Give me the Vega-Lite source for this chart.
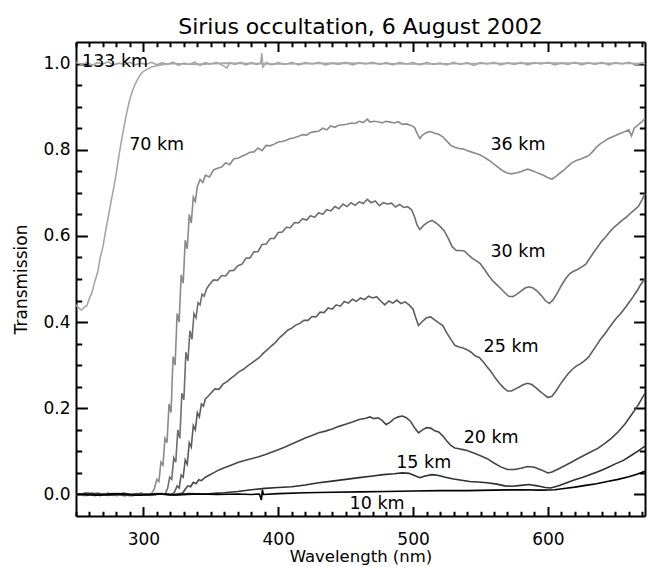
{
"$schema": "https://vega.github.io/schema/vega-lite/v6.json",
"width": 569, "height": 474,
"autosize": {"type": "none"},
"padding": {"left": 76, "top": 42, "right": 8, "bottom": 51},
"background": "white",
"title": {"text": "Sirius occultation, 6 August 2002", "font": "DejaVu Sans", "fontSize": 22, "fontWeight": "normal", "color": "black", "anchor": "middle", "offset": 2},
"config": {"view": {"stroke": null}, "font": "DejaVu Sans"},
"datasets": {
"labels": [
{"w":279,"t":1.004,"label":"133 km"},
{"w":309.8,"t":0.81,"label":"70 km"},
{"w":577.8,"t":0.81,"label":"36 km"},
{"w":577.8,"t":0.563,"label":"30 km"},
{"w":572.7,"t":0.343,"label":"25 km"},
{"w":557.9,"t":0.131,"label":"20 km"},
{"w":507.9,"t":0.073,"label":"15 km"},
{"w":473.3,"t":-0.022,"label":"10 km"}
],
"curves": [
{"k":"133","w":250,"t":1.003},{"k":"133","w":254,"t":0.998},{"k":"133","w":258,"t":1.002},{"k":"133","w":262,"t":0.996},{"k":"133","w":266,"t":1.002},{"k":"133","w":270,"t":0.999},{"k":"133","w":274,"t":1.004},{"k":"133","w":278,"t":0.997},{"k":"133","w":282,"t":1.001},{"k":"133","w":286,"t":0.998},{"k":"133","w":290,"t":1.003},{"k":"133","w":294,"t":0.997},{"k":"133","w":298,"t":1.001},{"k":"133","w":302,"t":0.998},{"k":"133","w":306,"t":1.003},{"k":"133","w":310,"t":0.997},{"k":"133","w":314,"t":1.002},{"k":"133","w":318,"t":0.998},{"k":"133","w":322,"t":1.003},{"k":"133","w":326,"t":0.996},{"k":"133","w":330,"t":1.001},{"k":"133","w":334,"t":0.998},{"k":"133","w":338,"t":1.003},{"k":"133","w":342,"t":0.996},{"k":"133","w":346,"t":1.002},{"k":"133","w":350,"t":0.999},{"k":"133","w":354,"t":1.003},{"k":"133","w":358,"t":0.997},{"k":"133","w":362,"t":0.99},{"k":"133","w":364,"t":1.002},{"k":"133","w":368,"t":0.998},{"k":"133","w":372,"t":1.003},{"k":"133","w":376,"t":0.997},{"k":"133","w":380,"t":1.002},{"k":"133","w":384,"t":0.998},{"k":"133","w":387,"t":1.002},{"k":"133","w":387.8,"t":1.024},{"k":"133","w":388.6,"t":0.992},{"k":"133","w":391,"t":1.003},{"k":"133","w":395,"t":0.997},
{"k":"133","w":400,"t":1.002},{"k":"133","w":405,"t":0.998},{"k":"133","w":410,"t":1.003},{"k":"133","w":415,"t":0.997},{"k":"133","w":420,"t":1.002},{"k":"133","w":425,"t":0.999},{"k":"133","w":430,"t":1.003},{"k":"133","w":435,"t":0.997},{"k":"133","w":440,"t":1.001},{"k":"133","w":445,"t":0.998},{"k":"133","w":450,"t":1.003},{"k":"133","w":455,"t":0.997},{"k":"133","w":460,"t":1.002},{"k":"133","w":465,"t":0.999},{"k":"133","w":470,"t":1.003},{"k":"133","w":475,"t":0.998},{"k":"133","w":480,"t":1.002},{"k":"133","w":485,"t":0.997},{"k":"133","w":490,"t":1.003},{"k":"133","w":495,"t":0.999},{"k":"133","w":500,"t":1.002},{"k":"133","w":505,"t":0.997},{"k":"133","w":510,"t":1.003},{"k":"133","w":515,"t":0.998},{"k":"133","w":520,"t":1.001},{"k":"133","w":525,"t":0.997},{"k":"133","w":530,"t":1.003},{"k":"133","w":535,"t":0.998},{"k":"133","w":540,"t":1.002},{"k":"133","w":545,"t":0.996},{"k":"133","w":550,"t":1.002},{"k":"133","w":555,"t":0.999},{"k":"133","w":560,"t":1.003},{"k":"133","w":565,"t":0.997},{"k":"133","w":570,"t":1.002},{"k":"133","w":575,"t":0.998},{"k":"133","w":580,"t":1.003},{"k":"133","w":585,"t":0.997},{"k":"133","w":590,"t":1.002},{"k":"133","w":595,"t":0.999},{"k":"133","w":600,"t":1.003},{"k":"133","w":605,"t":0.997},{"k":"133","w":610,"t":1.001},{"k":"133","w":615,"t":0.998},{"k":"133","w":620,"t":1.003},{"k":"133","w":625,"t":0.997},{"k":"133","w":630,"t":1.002},{"k":"133","w":635,"t":0.998},{"k":"133","w":640,"t":1.003},{"k":"133","w":645,"t":0.997},{"k":"133","w":650,"t":1.002},{"k":"133","w":655,"t":0.999},{"k":"133","w":660,"t":1.003},{"k":"133","w":665,"t":0.997},{"k":"133","w":670,"t":1.002},{"k":"133","w":672,"t":0.999},

{"k":"70","w":250,"t":0.44},{"k":"70","w":252,"t":0.433},{"k":"70","w":254,"t":0.428},{"k":"70","w":256,"t":0.434},{"k":"70","w":258,"t":0.438},{"k":"70","w":260,"t":0.455},{"k":"70","w":262,"t":0.47},{"k":"70","w":264,"t":0.495},{"k":"70","w":266,"t":0.515},{"k":"70","w":268,"t":0.55},{"k":"70","w":270,"t":0.575},{"k":"70","w":272,"t":0.612},{"k":"70","w":274,"t":0.645},{"k":"70","w":276,"t":0.68},{"k":"70","w":278,"t":0.712},{"k":"70","w":280,"t":0.748},{"k":"70","w":282,"t":0.79},{"k":"70","w":284,"t":0.826},{"k":"70","w":286,"t":0.86},{"k":"70","w":288,"t":0.892},{"k":"70","w":290,"t":0.918},{"k":"70","w":292,"t":0.938},{"k":"70","w":294,"t":0.953},{"k":"70","w":296,"t":0.965},{"k":"70","w":298,"t":0.975},{"k":"70","w":300,"t":0.982},{"k":"70","w":303,"t":0.987},{"k":"70","w":306,"t":0.992},{"k":"70","w":310,"t":0.995},{"k":"70","w":315,"t":0.998},{"k":"70","w":320,"t":1.0},{"k":"70","w":340,"t":0.998},{"k":"70","w":360,"t":1.001},{"k":"70","w":400,"t":0.999},{"k":"70","w":450,"t":1.001},{"k":"70","w":500,"t":0.999},{"k":"70","w":550,"t":1.0},{"k":"70","w":600,"t":1.001},{"k":"70","w":672,"t":1.0},

{"k":"36","w":250,"t":0.002},{"k":"36","w":256,"t":-0.003},{"k":"36","w":262,"t":0.003},{"k":"36","w":268,"t":-0.002},{"k":"36","w":274,"t":0.003},{"k":"36","w":280,"t":-0.003},{"k":"36","w":286,"t":0.002},{"k":"36","w":292,"t":-0.002},{"k":"36","w":298,"t":0.003},{"k":"36","w":303,"t":-0.001},{"k":"36","w":306,"t":0.002},
{"k":"36","w":308,"t":0.012},{"k":"36","w":310,"t":0.035},{"k":"36","w":311.5,"t":0.03},{"k":"36","w":313,"t":0.075},{"k":"36","w":314.5,"t":0.068},{"k":"36","w":316,"t":0.13},{"k":"36","w":317.5,"t":0.12},{"k":"36","w":319,"t":0.21},{"k":"36","w":320.5,"t":0.19},{"k":"36","w":322,"t":0.32},{"k":"36","w":323.5,"t":0.3},{"k":"36","w":325,"t":0.42},{"k":"36","w":326.5,"t":0.4},{"k":"36","w":328,"t":0.51},{"k":"36","w":329.5,"t":0.49},{"k":"36","w":331,"t":0.59},{"k":"36","w":332.5,"t":0.57},{"k":"36","w":334,"t":0.65},{"k":"36","w":335.5,"t":0.63},{"k":"36","w":337,"t":0.69},{"k":"36","w":338.5,"t":0.68},
{"k":"36","w":340,"t":0.715},{"k":"36","w":342,"t":0.731},{"k":"36","w":344,"t":0.724},{"k":"36","w":346,"t":0.741},{"k":"36","w":349,"t":0.737},{"k":"36","w":352,"t":0.753},{"k":"36","w":355,"t":0.757},{"k":"36","w":358,"t":0.76},{"k":"36","w":361,"t":0.77},{"k":"36","w":364,"t":0.765},{"k":"36","w":367,"t":0.779},{"k":"36","w":370,"t":0.78},{"k":"36","w":373,"t":0.785},{"k":"36","w":376,"t":0.789},{"k":"36","w":379,"t":0.794},{"k":"36","w":382,"t":0.795},{"k":"36","w":385,"t":0.804},{"k":"36","w":388,"t":0.798},{"k":"36","w":391,"t":0.81},{"k":"36","w":394,"t":0.809},{"k":"36","w":397,"t":0.813},{"k":"36","w":400,"t":0.818},{"k":"36","w":403,"t":0.819},{"k":"36","w":406,"t":0.822},{"k":"36","w":409,"t":0.826},{"k":"36","w":412,"t":0.828},{"k":"36","w":415,"t":0.831},{"k":"36","w":418,"t":0.835},{"k":"36","w":421,"t":0.834},{"k":"36","w":424,"t":0.84},{"k":"36","w":427,"t":0.842},{"k":"36","w":430,"t":0.843},{"k":"36","w":433,"t":0.85},{"k":"36","w":436,"t":0.846},{"k":"36","w":439,"t":0.855},{"k":"36","w":442,"t":0.852},{"k":"36","w":445,"t":0.857},{"k":"36","w":448,"t":0.858},{"k":"36","w":451,"t":0.859},{"k":"36","w":454,"t":0.862},{"k":"36","w":457,"t":0.861},{"k":"36","w":460,"t":0.866},{"k":"36","w":463,"t":0.863},{"k":"36","w":466,"t":0.871},{"k":"36","w":468,"t":0.864},{"k":"36","w":471,"t":0.866},{"k":"36","w":474,"t":0.865},{"k":"36","w":477,"t":0.862},{"k":"36","w":480,"t":0.866},{"k":"36","w":483,"t":0.864},{"k":"36","w":486,"t":0.862},{"k":"36","w":489,"t":0.865},{"k":"36","w":492,"t":0.859},{"k":"36","w":495,"t":0.86},{"k":"36","w":498,"t":0.857},{"k":"36","w":501,"t":0.852},{"k":"36","w":503,"t":0.838},{"k":"36","w":505,"t":0.826},{"k":"36","w":507,"t":0.834},{"k":"36","w":510,"t":0.84},{"k":"36","w":513,"t":0.842},{"k":"36","w":516,"t":0.838},{"k":"36","w":519,"t":0.836},{"k":"36","w":522,"t":0.83},{"k":"36","w":525,"t":0.82},{"k":"36","w":528,"t":0.81},{"k":"36","w":531,"t":0.806},{"k":"36","w":534,"t":0.803},{"k":"36","w":537,"t":0.802},{"k":"36","w":540,"t":0.798},{"k":"36","w":543,"t":0.795},{"k":"36","w":546,"t":0.792},{"k":"36","w":549,"t":0.789},{"k":"36","w":552,"t":0.784},{"k":"36","w":555,"t":0.778},{"k":"36","w":558,"t":0.772},{"k":"36","w":561,"t":0.764},{"k":"36","w":564,"t":0.757},{"k":"36","w":567,"t":0.75},{"k":"36","w":570,"t":0.746},{"k":"36","w":573,"t":0.744},{"k":"36","w":576,"t":0.746},{"k":"36","w":579,"t":0.748},{"k":"36","w":582,"t":0.752},{"k":"36","w":585,"t":0.755},{"k":"36","w":588,"t":0.752},{"k":"36","w":591,"t":0.748},{"k":"36","w":594,"t":0.744},{"k":"36","w":597,"t":0.74},{"k":"36","w":600,"t":0.735},{"k":"36","w":603,"t":0.732},{"k":"36","w":606,"t":0.738},{"k":"36","w":609,"t":0.746},{"k":"36","w":612,"t":0.753},{"k":"36","w":615,"t":0.762},{"k":"36","w":618,"t":0.77},{"k":"36","w":621,"t":0.775},{"k":"36","w":624,"t":0.778},{"k":"36","w":627,"t":0.782},{"k":"36","w":630,"t":0.786},{"k":"36","w":633,"t":0.795},{"k":"36","w":636,"t":0.806},{"k":"36","w":639,"t":0.814},{"k":"36","w":642,"t":0.82},{"k":"36","w":645,"t":0.826},{"k":"36","w":648,"t":0.83},{"k":"36","w":651,"t":0.834},{"k":"36","w":654,"t":0.838},{"k":"36","w":657,"t":0.842},{"k":"36","w":660,"t":0.846},{"k":"36","w":662,"t":0.832},{"k":"36","w":664,"t":0.85},{"k":"36","w":667,"t":0.858},{"k":"36","w":670,"t":0.866},{"k":"36","w":672,"t":0.872},

{"k":"30","w":250,"t":-0.002},{"k":"30","w":257,"t":0.003},{"k":"30","w":264,"t":-0.003},{"k":"30","w":271,"t":0.002},{"k":"30","w":278,"t":-0.002},{"k":"30","w":285,"t":0.003},{"k":"30","w":292,"t":-0.003},{"k":"30","w":299,"t":0.002},{"k":"30","w":306,"t":-0.002},{"k":"30","w":312,"t":0.002},{"k":"30","w":316,"t":0.0},
{"k":"30","w":318,"t":0.015},{"k":"30","w":319.5,"t":0.04},{"k":"30","w":321,"t":0.035},{"k":"30","w":322.5,"t":0.085},{"k":"30","w":324,"t":0.075},{"k":"30","w":325.5,"t":0.15},{"k":"30","w":327,"t":0.13},{"k":"30","w":328.5,"t":0.235},{"k":"30","w":330,"t":0.22},{"k":"30","w":331.5,"t":0.33},{"k":"30","w":333,"t":0.31},{"k":"30","w":334.5,"t":0.38},{"k":"30","w":336,"t":0.36},{"k":"30","w":337.5,"t":0.42},{"k":"30","w":339,"t":0.41},{"k":"30","w":340.5,"t":0.445},{"k":"30","w":342,"t":0.44},{"k":"30","w":343.5,"t":0.465},{"k":"30","w":345,"t":0.46},{"k":"30","w":347,"t":0.478},
{"k":"30","w":349,"t":0.487},{"k":"30","w":352,"t":0.498},{"k":"30","w":355,"t":0.497},{"k":"30","w":358,"t":0.508},{"k":"30","w":361,"t":0.507},{"k":"30","w":364,"t":0.519},{"k":"30","w":367,"t":0.52},{"k":"30","w":370,"t":0.531},{"k":"30","w":373,"t":0.534},{"k":"30","w":376,"t":0.548},{"k":"30","w":379,"t":0.549},{"k":"30","w":382,"t":0.563},{"k":"30","w":385,"t":0.564},{"k":"30","w":388,"t":0.58},{"k":"30","w":391,"t":0.581},{"k":"30","w":394,"t":0.594},{"k":"30","w":397,"t":0.594},{"k":"30","w":400,"t":0.608},{"k":"30","w":403,"t":0.609},{"k":"30","w":406,"t":0.62},{"k":"30","w":409,"t":0.619},{"k":"30","w":412,"t":0.631},{"k":"30","w":415,"t":0.63},{"k":"30","w":418,"t":0.64},{"k":"30","w":421,"t":0.637},{"k":"30","w":424,"t":0.647},{"k":"30","w":427,"t":0.643},{"k":"30","w":430,"t":0.654},{"k":"30","w":433,"t":0.65},{"k":"30","w":436,"t":0.661},{"k":"30","w":439,"t":0.658},{"k":"30","w":442,"t":0.668},{"k":"30","w":445,"t":0.663},{"k":"30","w":448,"t":0.674},{"k":"30","w":451,"t":0.668},{"k":"30","w":454,"t":0.677},{"k":"30","w":457,"t":0.671},{"k":"30","w":460,"t":0.679},{"k":"30","w":463,"t":0.675},{"k":"30","w":466,"t":0.685},{"k":"30","w":469,"t":0.677},{"k":"30","w":472,"t":0.681},{"k":"30","w":475,"t":0.67},{"k":"30","w":478,"t":0.677},{"k":"30","w":481,"t":0.674},{"k":"30","w":484,"t":0.676},{"k":"30","w":487,"t":0.667},{"k":"30","w":490,"t":0.673},{"k":"30","w":493,"t":0.666},{"k":"30","w":496,"t":0.668},{"k":"30","w":499,"t":0.66},{"k":"30","w":501,"t":0.645},{"k":"30","w":503,"t":0.625},{"k":"30","w":505,"t":0.615},{"k":"30","w":508,"t":0.625},{"k":"30","w":511,"t":0.632},{"k":"30","w":514,"t":0.636},{"k":"30","w":517,"t":0.63},{"k":"30","w":520,"t":0.622},{"k":"30","w":523,"t":0.612},{"k":"30","w":526,"t":0.595},{"k":"30","w":529,"t":0.575},{"k":"30","w":532,"t":0.566},{"k":"30","w":535,"t":0.566},{"k":"30","w":538,"t":0.565},{"k":"30","w":541,"t":0.556},{"k":"30","w":544,"t":0.548},{"k":"30","w":547,"t":0.542},{"k":"30","w":550,"t":0.535},{"k":"30","w":553,"t":0.522},{"k":"30","w":556,"t":0.508},{"k":"30","w":559,"t":0.496},{"k":"30","w":562,"t":0.487},{"k":"30","w":565,"t":0.478},{"k":"30","w":568,"t":0.468},{"k":"30","w":571,"t":0.46},{"k":"30","w":574,"t":0.459},{"k":"30","w":577,"t":0.465},{"k":"30","w":580,"t":0.472},{"k":"30","w":583,"t":0.479},{"k":"30","w":586,"t":0.482},{"k":"30","w":589,"t":0.479},{"k":"30","w":592,"t":0.472},{"k":"30","w":595,"t":0.462},{"k":"30","w":598,"t":0.45},{"k":"30","w":601,"t":0.443},{"k":"30","w":604,"t":0.452},{"k":"30","w":607,"t":0.468},{"k":"30","w":610,"t":0.485},{"k":"30","w":613,"t":0.5},{"k":"30","w":616,"t":0.512},{"k":"30","w":619,"t":0.518},{"k":"30","w":622,"t":0.522},{"k":"30","w":625,"t":0.528},{"k":"30","w":628,"t":0.534},{"k":"30","w":631,"t":0.548},{"k":"30","w":634,"t":0.562},{"k":"30","w":637,"t":0.575},{"k":"30","w":640,"t":0.588},{"k":"30","w":643,"t":0.598},{"k":"30","w":646,"t":0.61},{"k":"30","w":649,"t":0.62},{"k":"30","w":652,"t":0.628},{"k":"30","w":655,"t":0.636},{"k":"30","w":658,"t":0.643},{"k":"30","w":661,"t":0.652},{"k":"30","w":664,"t":0.66},{"k":"30","w":667,"t":0.668},{"k":"30","w":670,"t":0.685},{"k":"30","w":672,"t":0.698},

{"k":"25","w":250,"t":0.001},{"k":"25","w":258,"t":-0.002},{"k":"25","w":266,"t":0.003},{"k":"25","w":274,"t":-0.002},{"k":"25","w":282,"t":0.002},{"k":"25","w":290,"t":-0.003},{"k":"25","w":298,"t":0.002},{"k":"25","w":306,"t":-0.001},{"k":"25","w":314,"t":0.002},{"k":"25","w":320,"t":-0.001},
{"k":"25","w":323,"t":0.005},{"k":"25","w":325,"t":0.02},{"k":"25","w":326.5,"t":0.015},{"k":"25","w":328,"t":0.045},{"k":"25","w":329.5,"t":0.04},{"k":"25","w":331,"t":0.08},{"k":"25","w":332.5,"t":0.07},{"k":"25","w":334,"t":0.12},{"k":"25","w":335.5,"t":0.11},{"k":"25","w":337,"t":0.16},{"k":"25","w":338.5,"t":0.15},{"k":"25","w":340,"t":0.19},{"k":"25","w":341.5,"t":0.18},{"k":"25","w":343,"t":0.21},{"k":"25","w":344.5,"t":0.205},{"k":"25","w":346,"t":0.222},{"k":"25","w":348,"t":0.228},
{"k":"25","w":350,"t":0.235},{"k":"25","w":353,"t":0.245},{"k":"25","w":356,"t":0.244},{"k":"25","w":359,"t":0.256},{"k":"25","w":362,"t":0.262},{"k":"25","w":365,"t":0.27},{"k":"25","w":368,"t":0.277},{"k":"25","w":371,"t":0.285},{"k":"25","w":374,"t":0.29},{"k":"25","w":377,"t":0.298},{"k":"25","w":380,"t":0.304},{"k":"25","w":383,"t":0.311},{"k":"25","w":386,"t":0.318},{"k":"25","w":389,"t":0.328},{"k":"25","w":392,"t":0.336},{"k":"25","w":395,"t":0.345},{"k":"25","w":398,"t":0.353},{"k":"25","w":401,"t":0.364},{"k":"25","w":404,"t":0.372},{"k":"25","w":407,"t":0.381},{"k":"25","w":410,"t":0.386},{"k":"25","w":413,"t":0.393},{"k":"25","w":416,"t":0.397},{"k":"25","w":419,"t":0.404},{"k":"25","w":422,"t":0.404},{"k":"25","w":425,"t":0.413},{"k":"25","w":428,"t":0.412},{"k":"25","w":431,"t":0.423},{"k":"25","w":434,"t":0.422},{"k":"25","w":437,"t":0.433},{"k":"25","w":440,"t":0.43},{"k":"25","w":443,"t":0.44},{"k":"25","w":446,"t":0.437},{"k":"25","w":449,"t":0.448},{"k":"25","w":452,"t":0.444},{"k":"25","w":455,"t":0.453},{"k":"25","w":458,"t":0.448},{"k":"25","w":461,"t":0.456},{"k":"25","w":464,"t":0.452},{"k":"25","w":467,"t":0.46},{"k":"25","w":470,"t":0.456},{"k":"25","w":473,"t":0.459},{"k":"25","w":476,"t":0.449},{"k":"25","w":479,"t":0.44},{"k":"25","w":482,"t":0.449},{"k":"25","w":485,"t":0.444},{"k":"25","w":488,"t":0.451},{"k":"25","w":491,"t":0.443},{"k":"25","w":494,"t":0.447},{"k":"25","w":497,"t":0.44},{"k":"25","w":500,"t":0.43},{"k":"25","w":502,"t":0.41},{"k":"25","w":504,"t":0.392},{"k":"25","w":507,"t":0.402},{"k":"25","w":510,"t":0.41},{"k":"25","w":513,"t":0.412},{"k":"25","w":516,"t":0.405},{"k":"25","w":519,"t":0.398},{"k":"25","w":522,"t":0.392},{"k":"25","w":525,"t":0.375},{"k":"25","w":528,"t":0.36},{"k":"25","w":531,"t":0.346},{"k":"25","w":534,"t":0.342},{"k":"25","w":537,"t":0.34},{"k":"25","w":540,"t":0.336},{"k":"25","w":543,"t":0.33},{"k":"25","w":546,"t":0.322},{"k":"25","w":549,"t":0.318},{"k":"25","w":552,"t":0.308},{"k":"25","w":555,"t":0.296},{"k":"25","w":558,"t":0.284},{"k":"25","w":561,"t":0.27},{"k":"25","w":564,"t":0.258},{"k":"25","w":567,"t":0.248},{"k":"25","w":570,"t":0.24},{"k":"25","w":573,"t":0.24},{"k":"25","w":576,"t":0.245},{"k":"25","w":579,"t":0.25},{"k":"25","w":582,"t":0.255},{"k":"25","w":585,"t":0.258},{"k":"25","w":588,"t":0.255},{"k":"25","w":591,"t":0.248},{"k":"25","w":594,"t":0.24},{"k":"25","w":597,"t":0.232},{"k":"25","w":600,"t":0.225},{"k":"25","w":603,"t":0.228},{"k":"25","w":606,"t":0.24},{"k":"25","w":609,"t":0.255},{"k":"25","w":612,"t":0.268},{"k":"25","w":615,"t":0.28},{"k":"25","w":618,"t":0.29},{"k":"25","w":621,"t":0.298},{"k":"25","w":624,"t":0.303},{"k":"25","w":627,"t":0.31},{"k":"25","w":630,"t":0.318},{"k":"25","w":633,"t":0.332},{"k":"25","w":636,"t":0.346},{"k":"25","w":639,"t":0.36},{"k":"25","w":642,"t":0.372},{"k":"25","w":645,"t":0.385},{"k":"25","w":648,"t":0.398},{"k":"25","w":651,"t":0.41},{"k":"25","w":654,"t":0.42},{"k":"25","w":657,"t":0.432},{"k":"25","w":660,"t":0.445},{"k":"25","w":663,"t":0.458},{"k":"25","w":666,"t":0.472},{"k":"25","w":669,"t":0.488},{"k":"25","w":672,"t":0.5},

{"k":"20","w":250,"t":0.0},{"k":"20","w":259,"t":0.003},{"k":"20","w":268,"t":-0.002},{"k":"20","w":277,"t":0.002},{"k":"20","w":286,"t":-0.003},{"k":"20","w":295,"t":0.002},{"k":"20","w":304,"t":-0.002},{"k":"20","w":313,"t":0.002},{"k":"20","w":321,"t":-0.001},{"k":"20","w":327,"t":0.002},
{"k":"20","w":329,"t":0.003},{"k":"20","w":331,"t":0.012},{"k":"20","w":333,"t":0.02},{"k":"20","w":335,"t":0.018},{"k":"20","w":337,"t":0.028},{"k":"20","w":339,"t":0.025},{"k":"20","w":341,"t":0.034},{"k":"20","w":343,"t":0.032},{"k":"20","w":346,"t":0.04},{"k":"20","w":349,"t":0.045},{"k":"20","w":352,"t":0.05},{"k":"20","w":356,"t":0.057},{"k":"20","w":360,"t":0.062},{"k":"20","w":365,"t":0.068},{"k":"20","w":370,"t":0.074},{"k":"20","w":375,"t":0.079},{"k":"20","w":380,"t":0.083},{"k":"20","w":385,"t":0.087},{"k":"20","w":390,"t":0.092},{"k":"20","w":395,"t":0.098},{"k":"20","w":400,"t":0.104},{"k":"20","w":405,"t":0.11},{"k":"20","w":410,"t":0.117},{"k":"20","w":415,"t":0.124},{"k":"20","w":420,"t":0.131},{"k":"20","w":425,"t":0.137},{"k":"20","w":430,"t":0.143},{"k":"20","w":435,"t":0.147},{"k":"20","w":440,"t":0.152},{"k":"20","w":445,"t":0.158},{"k":"20","w":450,"t":0.163},{"k":"20","w":455,"t":0.168},{"k":"20","w":460,"t":0.174},{"k":"20","w":465,"t":0.177},{"k":"20","w":468,"t":0.18},{"k":"20","w":471,"t":0.176},{"k":"20","w":474,"t":0.178},{"k":"20","w":477,"t":0.172},{"k":"20","w":480,"t":0.162},{"k":"20","w":483,"t":0.168},{"k":"20","w":486,"t":0.176},{"k":"20","w":489,"t":0.18},{"k":"20","w":492,"t":0.182},{"k":"20","w":495,"t":0.178},{"k":"20","w":498,"t":0.17},{"k":"20","w":501,"t":0.155},{"k":"20","w":504,"t":0.143},{"k":"20","w":507,"t":0.15},{"k":"20","w":510,"t":0.155},{"k":"20","w":513,"t":0.154},{"k":"20","w":516,"t":0.148},{"k":"20","w":519,"t":0.145},{"k":"20","w":522,"t":0.136},{"k":"20","w":525,"t":0.124},{"k":"20","w":528,"t":0.114},{"k":"20","w":531,"t":0.108},{"k":"20","w":534,"t":0.106},{"k":"20","w":537,"t":0.104},{"k":"20","w":540,"t":0.102},{"k":"20","w":545,"t":0.096},{"k":"20","w":550,"t":0.09},{"k":"20","w":555,"t":0.083},{"k":"20","w":560,"t":0.073},{"k":"20","w":565,"t":0.064},{"k":"20","w":570,"t":0.058},{"k":"20","w":575,"t":0.058},{"k":"20","w":580,"t":0.061},{"k":"20","w":585,"t":0.065},{"k":"20","w":590,"t":0.063},{"k":"20","w":595,"t":0.057},{"k":"20","w":600,"t":0.05},{"k":"20","w":603,"t":0.052},{"k":"20","w":607,"t":0.058},{"k":"20","w":612,"t":0.066},{"k":"20","w":617,"t":0.074},{"k":"20","w":622,"t":0.083},{"k":"20","w":627,"t":0.091},{"k":"20","w":632,"t":0.099},{"k":"20","w":637,"t":0.107},{"k":"20","w":642,"t":0.118},{"k":"20","w":647,"t":0.13},{"k":"20","w":652,"t":0.145},{"k":"20","w":657,"t":0.163},{"k":"20","w":662,"t":0.185},{"k":"20","w":667,"t":0.208},{"k":"20","w":672,"t":0.235},

{"k":"15","w":250,"t":-0.001},{"k":"15","w":262,"t":0.002},{"k":"15","w":274,"t":-0.002},{"k":"15","w":286,"t":0.002},{"k":"15","w":298,"t":-0.002},{"k":"15","w":310,"t":0.002},{"k":"15","w":322,"t":-0.001},{"k":"15","w":334,"t":0.002},{"k":"15","w":346,"t":0.001},{"k":"15","w":355,"t":0.003},{"k":"15","w":360,"t":0.004},{"k":"15","w":370,"t":0.007},{"k":"15","w":380,"t":0.011},{"k":"15","w":390,"t":0.014},{"k":"15","w":400,"t":0.016},{"k":"15","w":410,"t":0.018},{"k":"15","w":420,"t":0.022},{"k":"15","w":430,"t":0.027},{"k":"15","w":440,"t":0.031},{"k":"15","w":450,"t":0.035},{"k":"15","w":460,"t":0.039},{"k":"15","w":470,"t":0.043},{"k":"15","w":478,"t":0.046},{"k":"15","w":486,"t":0.048},{"k":"15","w":492,"t":0.05},{"k":"15","w":497,"t":0.049},{"k":"15","w":501,"t":0.044},{"k":"15","w":505,"t":0.039},{"k":"15","w":509,"t":0.043},{"k":"15","w":514,"t":0.046},{"k":"15","w":519,"t":0.044},{"k":"15","w":524,"t":0.04},{"k":"15","w":530,"t":0.036},{"k":"15","w":536,"t":0.033},{"k":"15","w":542,"t":0.03},{"k":"15","w":548,"t":0.029},{"k":"15","w":555,"t":0.027},{"k":"15","w":562,"t":0.024},{"k":"15","w":568,"t":0.02},{"k":"15","w":574,"t":0.019},{"k":"15","w":580,"t":0.021},{"k":"15","w":586,"t":0.023},{"k":"15","w":592,"t":0.02},{"k":"15","w":598,"t":0.016},{"k":"15","w":602,"t":0.015},{"k":"15","w":608,"t":0.02},{"k":"15","w":614,"t":0.027},{"k":"15","w":620,"t":0.034},{"k":"15","w":626,"t":0.04},{"k":"15","w":632,"t":0.047},{"k":"15","w":638,"t":0.054},{"k":"15","w":644,"t":0.062},{"k":"15","w":650,"t":0.071},{"k":"15","w":656,"t":0.079},{"k":"15","w":662,"t":0.091},{"k":"15","w":667,"t":0.101},{"k":"15","w":672,"t":0.112},

{"k":"10","w":250,"t":0.001},{"k":"10","w":265,"t":-0.002},{"k":"10","w":280,"t":0.002},{"k":"10","w":295,"t":-0.002},{"k":"10","w":310,"t":0.001},{"k":"10","w":325,"t":-0.001},{"k":"10","w":340,"t":0.001},{"k":"10","w":355,"t":0.0},{"k":"10","w":370,"t":0.001},{"k":"10","w":380,"t":0.0},{"k":"10","w":386,"t":0.001},{"k":"10","w":387.5,"t":-0.013},{"k":"10","w":388.2,"t":0.011},{"k":"10","w":389,"t":0.0},{"k":"10","w":400,"t":0.002},{"k":"10","w":420,"t":0.004},{"k":"10","w":440,"t":0.005},{"k":"10","w":460,"t":0.006},{"k":"10","w":480,"t":0.007},{"k":"10","w":500,"t":0.008},{"k":"10","w":520,"t":0.009},{"k":"10","w":540,"t":0.009},{"k":"10","w":560,"t":0.01},{"k":"10","w":580,"t":0.011},{"k":"10","w":595,"t":0.01},{"k":"10","w":605,"t":0.011},{"k":"10","w":612,"t":0.014},{"k":"10","w":620,"t":0.017},{"k":"10","w":628,"t":0.021},{"k":"10","w":636,"t":0.025},{"k":"10","w":644,"t":0.03},{"k":"10","w":652,"t":0.035},{"k":"10","w":660,"t":0.041},{"k":"10","w":666,"t":0.047},{"k":"10","w":672,"t":0.054}
]
},
"layer": [
{
"data": {"name": "curves"},
"mark": {"type": "line", "strokeWidth": 1.6},
"encoding": {
"x": {"field": "w", "type": "quantitative", "scale": {"domain": [250, 672], "nice": false, "zero": false},
"axis": {"orient": "bottom", "values": [250,260,270,280,290,300,310,320,330,340,350,360,370,380,390,400,410,420,430,440,450,460,470,480,490,500,510,520,530,540,550,560,570,580,590,600,610,620,630,640,650,660,670],
"labelExpr": "datum.value % 100 == 0 ? format(datum.value, 'd') : ''",
"tickSize": {"condition": {"test": "datum.value % 100 == 0", "value": -9.5}, "value": -4.75},
"tickWidth": 2, "tickColor": "black", "domainColor": "black", "domainWidth": 2,
"labelColor": "black", "labelFont": "DejaVu Sans", "labelFontSize": 17, "labelPadding": 25, "labelOverlap": false, "labelFlush": false,
"title": "Wavelength (nm)", "titleFont": "DejaVu Sans", "titleFontSize": 16.5, "titleFontWeight": "normal", "titleColor": "black", "titlePadding": -4, "grid": false}},
"y": {"field": "t", "type": "quantitative", "scale": {"domain": [-0.05, 1.05], "nice": false, "zero": false},
"axis": {"orient": "left", "values": [0,0.05,0.1,0.15,0.2,0.25,0.3,0.35,0.4,0.45,0.5,0.55,0.6,0.65,0.7,0.75,0.8,0.85,0.9,0.95,1.0],
"labelExpr": "abs(datum.value*5 - round(datum.value*5)) < 0.001 ? format(datum.value, '.1f') : ''",
"tickSize": {"condition": {"test": "abs(datum.value*5 - round(datum.value*5)) < 0.001", "value": -11.4}, "value": -5.7},
"tickWidth": 2, "tickColor": "black", "domainColor": "black", "domainWidth": 2,
"labelColor": "black", "labelFont": "DejaVu Sans", "labelFontSize": 17, "labelPadding": 17.4, "labelOverlap": false, "labelFlush": false,
"title": "Transmission", "titleFont": "DejaVu Sans", "titleFontSize": 17, "titleFontWeight": "normal", "titleColor": "black", "titlePadding": 12, "grid": false}},
"color": {"field": "k", "type": "nominal", "legend": null,
"scale": {"domain": ["133","70","36","30","25","20","15","10"], "range": ["#a6a6a6","#a6a6a6","#8a8a8a","#6e6e6e","#5c5c5c","#474747","#2e2e2e","#000000"]}}
}
},
{
"data": {"name": "labels"},
"mark": {"type": "text", "font": "DejaVu Sans", "fontSize": 17.5, "color": "black", "align": "center", "baseline": "middle"},
"encoding": {
"x": {"field": "w", "type": "quantitative", "scale": {"domain": [250, 672], "nice": false, "zero": false},
"axis": {"orient": "top", "values": [250,260,270,280,290,300,310,320,330,340,350,360,370,380,390,400,410,420,430,440,450,460,470,480,490,500,510,520,530,540,550,560,570,580,590,600,610,620,630,640,650,660,670],
"labels": false, "title": null,
"tickSize": {"condition": {"test": "datum.value % 100 == 0", "value": -9.5}, "value": -4.75},
"tickWidth": 2, "tickColor": "black", "domainColor": "black", "domainWidth": 2, "grid": false}},
"y": {"field": "t", "type": "quantitative", "scale": {"domain": [-0.05, 1.05], "nice": false, "zero": false},
"axis": {"orient": "right", "values": [0,0.05,0.1,0.15,0.2,0.25,0.3,0.35,0.4,0.45,0.5,0.55,0.6,0.65,0.7,0.75,0.8,0.85,0.9,0.95,1.0],
"labels": false, "title": null,
"tickSize": {"condition": {"test": "abs(datum.value*5 - round(datum.value*5)) < 0.001", "value": -11.4}, "value": -5.7},
"tickWidth": 2, "tickColor": "black", "domainColor": "black", "domainWidth": 2, "grid": false}},
"text": {"field": "label"}
}
}
],
"resolve": {"axis": {"x": "independent", "y": "independent"}}
}
